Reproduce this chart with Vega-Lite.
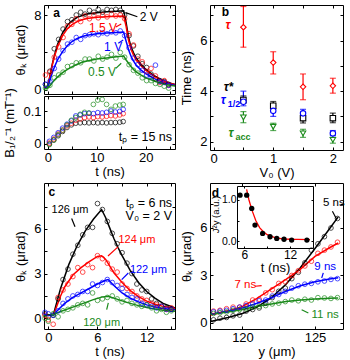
{
"$schema": "https://vega.github.io/schema/vega-lite/v6.json",
"width": 350, "height": 360, "autosize": {"type": "none"}, "padding": 0,
"config": {
 "view": {"stroke": null},
 "font": "Liberation Sans",
 "legend": {"disable": true},
 "axis": {"grid": false, "domainColor": "#000", "domainWidth": 1, "tickColor": "#000", "tickWidth": 1, "tickSize": -3, "labelPadding": 6, "labelFont": "Liberation Sans", "labelFontSize": 13, "labelColor": "#000", "titleFont": "Liberation Sans", "titleFontSize": 13, "titleFontWeight": "normal", "titleColor": "#000", "labelOverlap": false, "labelFlush": false, "titlePadding": 4},
 "text": {"font": "Liberation Sans"}
},
"datasets": {
 "aTopLines": [
  {"s":"2 V","x":-0.8,"y":0.2},{"s":"2 V","x":0,"y":0.3},{"s":"2 V","x":0.5,"y":1.8},{"s":"2 V","x":1,"y":3.0},{"s":"2 V","x":1.5,"y":4.0},{"s":"2 V","x":2,"y":4.9},{"s":"2 V","x":3,"y":6.1},{"s":"2 V","x":4,"y":6.9},{"s":"2 V","x":5,"y":7.4},{"s":"2 V","x":6,"y":7.75},{"s":"2 V","x":7,"y":7.95},{"s":"2 V","x":8,"y":8.1},{"s":"2 V","x":10,"y":8.25},{"s":"2 V","x":12,"y":8.35},{"s":"2 V","x":14,"y":8.4},{"s":"2 V","x":15.5,"y":8.45},{"s":"2 V","x":16,"y":7.2},{"s":"2 V","x":16.5,"y":5.6},{"s":"2 V","x":17,"y":4.6},{"s":"2 V","x":17.5,"y":4.0},{"s":"2 V","x":18,"y":3.45},{"s":"2 V","x":19,"y":2.75},{"s":"2 V","x":20,"y":2.2},{"s":"2 V","x":21,"y":1.8},{"s":"2 V","x":22,"y":1.45},{"s":"2 V","x":23,"y":1.15},{"s":"2 V","x":24,"y":0.92},{"s":"2 V","x":25,"y":0.73},{"s":"2 V","x":26,"y":0.58},
  {"s":"1.5 V","x":-0.8,"y":0.2},{"s":"1.5 V","x":0,"y":0.35},{"s":"1.5 V","x":0.5,"y":1.7},{"s":"1.5 V","x":1,"y":2.9},{"s":"1.5 V","x":1.5,"y":3.85},{"s":"1.5 V","x":2,"y":4.65},{"s":"1.5 V","x":3,"y":5.8},{"s":"1.5 V","x":4,"y":6.55},{"s":"1.5 V","x":5,"y":7.0},{"s":"1.5 V","x":6,"y":7.3},{"s":"1.5 V","x":7,"y":7.5},{"s":"1.5 V","x":8,"y":7.62},{"s":"1.5 V","x":10,"y":7.75},{"s":"1.5 V","x":12,"y":7.82},{"s":"1.5 V","x":14,"y":7.87},{"s":"1.5 V","x":15.5,"y":7.9},{"s":"1.5 V","x":16,"y":6.8},{"s":"1.5 V","x":16.5,"y":5.3},{"s":"1.5 V","x":17,"y":4.35},{"s":"1.5 V","x":17.5,"y":3.75},{"s":"1.5 V","x":18,"y":3.25},{"s":"1.5 V","x":19,"y":2.6},{"s":"1.5 V","x":20,"y":2.1},{"s":"1.5 V","x":21,"y":1.72},{"s":"1.5 V","x":22,"y":1.4},{"s":"1.5 V","x":23,"y":1.12},{"s":"1.5 V","x":24,"y":0.9},{"s":"1.5 V","x":25,"y":0.72},{"s":"1.5 V","x":26,"y":0.57},
  {"s":"1 V","x":-0.8,"y":0.15},{"s":"1 V","x":0,"y":0.3},{"s":"1 V","x":0.5,"y":1.2},{"s":"1 V","x":1,"y":2.0},{"s":"1 V","x":1.5,"y":2.65},{"s":"1 V","x":2,"y":3.25},{"s":"1 V","x":3,"y":4.1},{"s":"1 V","x":4,"y":4.75},{"s":"1 V","x":5,"y":5.2},{"s":"1 V","x":6,"y":5.5},{"s":"1 V","x":7,"y":5.7},{"s":"1 V","x":8,"y":5.85},{"s":"1 V","x":10,"y":6.0},{"s":"1 V","x":12,"y":6.08},{"s":"1 V","x":14,"y":6.13},{"s":"1 V","x":15.5,"y":6.18},{"s":"1 V","x":16,"y":5.2},{"s":"1 V","x":16.5,"y":4.3},{"s":"1 V","x":17,"y":3.6},{"s":"1 V","x":17.5,"y":3.1},{"s":"1 V","x":18,"y":2.7},{"s":"1 V","x":19,"y":2.15},{"s":"1 V","x":20,"y":1.75},{"s":"1 V","x":21,"y":1.42},{"s":"1 V","x":22,"y":1.15},{"s":"1 V","x":23,"y":0.92},{"s":"1 V","x":24,"y":0.75},{"s":"1 V","x":25,"y":0.6},{"s":"1 V","x":26,"y":0.48},
  {"s":"0.5 V","x":-0.8,"y":0.1},{"s":"0.5 V","x":0,"y":0.2},{"s":"0.5 V","x":0.5,"y":0.5},{"s":"0.5 V","x":1,"y":0.85},{"s":"0.5 V","x":1.5,"y":1.15},{"s":"0.5 V","x":2,"y":1.4},{"s":"0.5 V","x":3,"y":1.85},{"s":"0.5 V","x":4,"y":2.2},{"s":"0.5 V","x":5,"y":2.5},{"s":"0.5 V","x":6,"y":2.75},{"s":"0.5 V","x":7,"y":2.95},{"s":"0.5 V","x":8,"y":3.1},{"s":"0.5 V","x":10,"y":3.3},{"s":"0.5 V","x":12,"y":3.42},{"s":"0.5 V","x":14,"y":3.55},{"s":"0.5 V","x":15.5,"y":3.62},{"s":"0.5 V","x":16,"y":3.2},{"s":"0.5 V","x":16.5,"y":2.85},{"s":"0.5 V","x":17,"y":2.5},{"s":"0.5 V","x":17.5,"y":2.2},{"s":"0.5 V","x":18,"y":1.95},{"s":"0.5 V","x":19,"y":1.6},{"s":"0.5 V","x":20,"y":1.3},{"s":"0.5 V","x":21,"y":1.1},{"s":"0.5 V","x":22,"y":0.9},{"s":"0.5 V","x":23,"y":0.75},{"s":"0.5 V","x":24,"y":0.62},{"s":"0.5 V","x":25,"y":0.5},{"s":"0.5 V","x":26,"y":0.42}
 ],
 "aTopPts": [
  {"s":"2 V","x":-0.5,"y":0.6},{"s":"2 V","x":0.4,"y":2.0},{"s":"2 V","x":1.3,"y":4.4},{"s":"2 V","x":2.2,"y":5.4},{"s":"2 V","x":3.1,"y":6.5},{"s":"2 V","x":4.0,"y":7.3},{"s":"2 V","x":4.9,"y":7.5},{"s":"2 V","x":5.8,"y":8.0},{"s":"2 V","x":6.7,"y":8.3},{"s":"2 V","x":7.6,"y":8.1},{"s":"2 V","x":8.5,"y":8.5},{"s":"2 V","x":9.4,"y":8.3},{"s":"2 V","x":10.3,"y":8.6},{"s":"2 V","x":11.2,"y":8.3},{"s":"2 V","x":12.1,"y":8.6},{"s":"2 V","x":13.0,"y":8.5},{"s":"2 V","x":13.9,"y":8.6},{"s":"2 V","x":14.8,"y":8.5},{"s":"2 V","x":15.7,"y":8.0},{"s":"2 V","x":16.6,"y":5.8},{"s":"2 V","x":17.5,"y":4.7},{"s":"2 V","x":18.4,"y":3.6},{"s":"2 V","x":19.3,"y":2.8},{"s":"2 V","x":20.2,"y":2.4},{"s":"2 V","x":21.1,"y":1.7},{"s":"2 V","x":22.0,"y":1.2},{"s":"2 V","x":22.9,"y":1.0},{"s":"2 V","x":23.8,"y":0.9},{"s":"2 V","x":24.7,"y":0.6},
  {"s":"1.5 V","x":-0.5,"y":1.6},{"s":"1.5 V","x":0.4,"y":1.9},{"s":"1.5 V","x":1.3,"y":3.5},{"s":"1.5 V","x":2.2,"y":4.6},{"s":"1.5 V","x":3.1,"y":5.6},{"s":"1.5 V","x":4.0,"y":6.8},{"s":"1.5 V","x":4.9,"y":7.0},{"s":"1.5 V","x":5.8,"y":7.6},{"s":"1.5 V","x":6.7,"y":7.3},{"s":"1.5 V","x":7.6,"y":7.9},{"s":"1.5 V","x":8.5,"y":7.6},{"s":"1.5 V","x":9.4,"y":8.0},{"s":"1.5 V","x":10.3,"y":7.7},{"s":"1.5 V","x":11.2,"y":8.0},{"s":"1.5 V","x":12.1,"y":7.8},{"s":"1.5 V","x":13.0,"y":8.1},{"s":"1.5 V","x":13.9,"y":7.9},{"s":"1.5 V","x":14.8,"y":8.0},{"s":"1.5 V","x":15.7,"y":7.6},{"s":"1.5 V","x":16.6,"y":6.0},{"s":"1.5 V","x":17.5,"y":4.8},{"s":"1.5 V","x":18.4,"y":3.3},{"s":"1.5 V","x":19.3,"y":3.0},{"s":"1.5 V","x":20.2,"y":2.0},{"s":"1.5 V","x":21.1,"y":2.3},{"s":"1.5 V","x":22.0,"y":1.5},{"s":"1.5 V","x":22.9,"y":0.8},{"s":"1.5 V","x":23.8,"y":1.0},{"s":"1.5 V","x":24.7,"y":0.5},
  {"s":"1 V","x":-0.5,"y":0.6},{"s":"1 V","x":0.4,"y":0.9},{"s":"1 V","x":1.3,"y":2.3},{"s":"1 V","x":2.2,"y":3.3},{"s":"1 V","x":3.1,"y":4.2},{"s":"1 V","x":4.0,"y":4.9},{"s":"1 V","x":4.9,"y":5.1},{"s":"1 V","x":5.8,"y":5.6},{"s":"1 V","x":6.7,"y":5.4},{"s":"1 V","x":7.6,"y":5.8},{"s":"1 V","x":8.5,"y":5.9},{"s":"1 V","x":9.4,"y":6.0},{"s":"1 V","x":10.3,"y":5.9},{"s":"1 V","x":11.2,"y":6.1},{"s":"1 V","x":12.1,"y":6.0},{"s":"1 V","x":13.0,"y":6.2},{"s":"1 V","x":13.9,"y":6.1},{"s":"1 V","x":14.8,"y":6.3},{"s":"1 V","x":15.7,"y":5.8},{"s":"1 V","x":16.6,"y":4.5},{"s":"1 V","x":17.5,"y":3.4},{"s":"1 V","x":18.4,"y":2.7},{"s":"1 V","x":19.3,"y":2.1},{"s":"1 V","x":20.2,"y":1.6},{"s":"1 V","x":21.1,"y":1.4},{"s":"1 V","x":22.0,"y":2.65},{"s":"1 V","x":22.9,"y":0.9},{"s":"1 V","x":23.8,"y":0.8},{"s":"1 V","x":24.7,"y":0.5},
  {"s":"0.5 V","x":-0.5,"y":0.2},{"s":"0.5 V","x":0.4,"y":0.5},{"s":"0.5 V","x":1.3,"y":1.3},{"s":"0.5 V","x":2.2,"y":1.6},{"s":"0.5 V","x":3.1,"y":1.9},{"s":"0.5 V","x":4.0,"y":2.5},{"s":"0.5 V","x":4.9,"y":2.6},{"s":"0.5 V","x":5.8,"y":2.9},{"s":"0.5 V","x":6.7,"y":2.9},{"s":"0.5 V","x":7.6,"y":3.3},{"s":"0.5 V","x":8.5,"y":3.3},{"s":"0.5 V","x":9.4,"y":3.1},{"s":"0.5 V","x":10.3,"y":3.6},{"s":"0.5 V","x":11.2,"y":3.3},{"s":"0.5 V","x":12.1,"y":3.5},{"s":"0.5 V","x":13.0,"y":3.8},{"s":"0.5 V","x":13.9,"y":3.4},{"s":"0.5 V","x":14.8,"y":4.0},{"s":"0.5 V","x":15.7,"y":3.5},{"s":"0.5 V","x":16.6,"y":2.7},{"s":"0.5 V","x":17.5,"y":2.1},{"s":"0.5 V","x":18.4,"y":1.8},{"s":"0.5 V","x":19.3,"y":1.3},{"s":"0.5 V","x":20.2,"y":1.0},{"s":"0.5 V","x":21.1,"y":1.0},{"s":"0.5 V","x":22.0,"y":0.7},{"s":"0.5 V","x":22.9,"y":0.6},{"s":"0.5 V","x":23.8,"y":0.4},{"s":"0.5 V","x":24.7,"y":0.2}
 ],
 "aLab": [
  {"s":"2 V","x":18.8,"y":7.8,"text":"2 V"},{"s":"1.5 V","x":8.4,"y":6.6,"text":"1.5 V"},{"s":"1 V","x":11.5,"y":4.62,"text":"1 V"},{"s":"0.5 V","x":8.2,"y":1.95,"text":"0.5 V"}
 ],
 "aPtr": [
  {"s":"2 V","x":15.9,"y":8.25,"x2":18.3,"y2":7.82},{"s":"1.5 V","x":13.9,"y":6.72,"x2":15.0,"y2":7.04},{"s":"1 V","x":14.4,"y":4.98,"x2":15.4,"y2":5.33},{"s":"0.5 V","x":13.9,"y":2.31,"x2":15.0,"y2":2.85}
 ],
 "aBot": [
  {"s":"2 V","x":0.3,"y":0.0},{"s":"2 V","x":1.2,"y":0.012},{"s":"2 V","x":2.1,"y":0.025},{"s":"2 V","x":3.0,"y":0.038},{"s":"2 V","x":3.9,"y":0.05},{"s":"2 V","x":4.8,"y":0.058},{"s":"2 V","x":5.7,"y":0.063},{"s":"2 V","x":6.6,"y":0.064},{"s":"2 V","x":7.5,"y":0.065},{"s":"2 V","x":8.4,"y":0.064},{"s":"2 V","x":9.3,"y":0.065},{"s":"2 V","x":10.2,"y":0.064},{"s":"2 V","x":11.1,"y":0.065},{"s":"2 V","x":12.0,"y":0.064},{"s":"2 V","x":12.9,"y":0.065},{"s":"2 V","x":13.8,"y":0.065},{"s":"2 V","x":14.7,"y":0.066},{"s":"2 V","x":15.4,"y":0.068},
  {"s":"1.5 V","x":0.3,"y":0.003},{"s":"1.5 V","x":1.2,"y":0.015},{"s":"1.5 V","x":2.1,"y":0.03},{"s":"1.5 V","x":3.0,"y":0.042},{"s":"1.5 V","x":3.9,"y":0.055},{"s":"1.5 V","x":4.8,"y":0.063},{"s":"1.5 V","x":5.7,"y":0.072},{"s":"1.5 V","x":6.6,"y":0.076},{"s":"1.5 V","x":7.5,"y":0.08},{"s":"1.5 V","x":8.4,"y":0.082},{"s":"1.5 V","x":9.3,"y":0.08},{"s":"1.5 V","x":10.2,"y":0.083},{"s":"1.5 V","x":11.1,"y":0.082},{"s":"1.5 V","x":12.0,"y":0.084},{"s":"1.5 V","x":12.9,"y":0.086},{"s":"1.5 V","x":13.8,"y":0.085},{"s":"1.5 V","x":14.7,"y":0.088},{"s":"1.5 V","x":15.4,"y":0.092},
  {"s":"1 V","x":0.3,"y":0.008},{"s":"1 V","x":1.2,"y":0.02},{"s":"1 V","x":2.1,"y":0.034},{"s":"1 V","x":3.0,"y":0.048},{"s":"1 V","x":3.9,"y":0.06},{"s":"1 V","x":4.8,"y":0.07},{"s":"1 V","x":5.7,"y":0.085},{"s":"1 V","x":6.6,"y":0.088},{"s":"1 V","x":7.5,"y":0.092},{"s":"1 V","x":8.4,"y":0.093},{"s":"1 V","x":9.3,"y":0.092},{"s":"1 V","x":10.2,"y":0.095},{"s":"1 V","x":11.1,"y":0.094},{"s":"1 V","x":12.0,"y":0.096},{"s":"1 V","x":12.9,"y":0.1},{"s":"1 V","x":13.8,"y":0.097},{"s":"1 V","x":14.7,"y":0.099},{"s":"1 V","x":15.4,"y":0.105},
  {"s":"0.5 V","x":0.3,"y":-0.002},{"s":"0.5 V","x":1.2,"y":0.012},{"s":"0.5 V","x":2.1,"y":0.028},{"s":"0.5 V","x":3.0,"y":0.042},{"s":"0.5 V","x":3.9,"y":0.058},{"s":"0.5 V","x":4.8,"y":0.072},{"s":"0.5 V","x":5.7,"y":0.08},{"s":"0.5 V","x":6.6,"y":0.09},{"s":"0.5 V","x":7.5,"y":0.096},{"s":"0.5 V","x":8.4,"y":0.094},{"s":"0.5 V","x":9.3,"y":0.12},{"s":"0.5 V","x":10.2,"y":0.133},{"s":"0.5 V","x":11.1,"y":0.135},{"s":"0.5 V","x":12.0,"y":0.12},{"s":"0.5 V","x":12.9,"y":0.105},{"s":"0.5 V","x":13.8,"y":0.115},{"s":"0.5 V","x":14.7,"y":0.118},{"s":"0.5 V","x":15.4,"y":0.12}
 ],
 "bPts": [
  {"s":"τ","x":0.5,"y":6.53,"lo":5.74,"hi":7.35},{"s":"τ","x":1,"y":5.13,"lo":4.68,"hi":5.56},{"s":"τ","x":1.5,"y":4.17,"lo":3.66,"hi":4.68},{"s":"τ","x":2,"y":4.21,"lo":3.92,"hi":4.51},
  {"s":"τ*","x":0.5,"y":3.65,"lo":3.53,"hi":3.81},{"s":"τ*","x":1,"y":3.42,"lo":3.30,"hi":3.59},{"s":"τ*","x":1.5,"y":2.93,"lo":2.74,"hi":3.13},{"s":"τ*","x":2,"y":2.93,"lo":2.75,"hi":3.13},
  {"s":"τ1/2","x":0.5,"y":3.58,"lo":3.42,"hi":4.0},{"s":"τ1/2","x":1,"y":3.22,"lo":3.0,"hi":3.42},{"s":"τ1/2","x":1.5,"y":3.12,"lo":2.93,"hi":3.28},{"s":"τ1/2","x":2,"y":2.33,"lo":2.23,"hi":2.44},
  {"s":"τacc","x":0.5,"y":2.96,"lo":2.75,"hi":3.19},{"s":"τacc","x":1,"y":2.59,"lo":2.44,"hi":2.73},{"s":"τacc","x":1.5,"y":2.33,"lo":2.17,"hi":2.49},{"s":"τacc","x":2,"y":2.07,"lo":1.94,"hi":2.26}
 ],
 "bLab": [
  {"s":"τ","x":0.2,"y":6.62,"main":"τ","sub":""},{"s":"τ*","x":0.17,"y":4.16,"main":"τ*","sub":""},{"s":"τ1/2","x":0.12,"y":3.64,"main":"τ","sub":"1/2"},{"s":"τacc","x":0.25,"y":2.33,"main":"τ","sub":"acc"}
 ],
 "cLines": [
  {"s":"126 μm","x":-0.52,"y":0.2},{"s":"126 μm","x":0.6,"y":0.2},{"s":"126 μm","x":0.8,"y":0.6},{"s":"126 μm","x":1.5,"y":2.0},{"s":"126 μm","x":2.5,"y":3.6},{"s":"126 μm","x":3.5,"y":4.85},{"s":"126 μm","x":4.5,"y":5.85},{"s":"126 μm","x":5.5,"y":6.65},{"s":"126 μm","x":6.5,"y":7.3},{"s":"126 μm","x":7.0,"y":6.75},{"s":"126 μm","x":7.5,"y":6.05},{"s":"126 μm","x":8.0,"y":5.35},{"s":"126 μm","x":8.5,"y":4.75},{"s":"126 μm","x":9.0,"y":4.2},{"s":"126 μm","x":10,"y":3.2},{"s":"126 μm","x":11,"y":2.4},{"s":"126 μm","x":12,"y":1.8},{"s":"126 μm","x":13,"y":1.35},{"s":"126 μm","x":14,"y":1.0},{"s":"126 μm","x":15.45,"y":0.7},
  {"s":"124 μm","x":-0.52,"y":0.2},{"s":"124 μm","x":0.6,"y":0.2},{"s":"124 μm","x":0.9,"y":0.6},{"s":"124 μm","x":1.5,"y":1.5},{"s":"124 μm","x":2.0,"y":2.1},{"s":"124 μm","x":3.0,"y":2.9},{"s":"124 μm","x":4.0,"y":3.4},{"s":"124 μm","x":5.0,"y":3.8},{"s":"124 μm","x":6.0,"y":4.15},{"s":"124 μm","x":6.5,"y":4.2},{"s":"124 μm","x":7.0,"y":3.95},{"s":"124 μm","x":7.5,"y":3.5},{"s":"124 μm","x":8.0,"y":3.05},{"s":"124 μm","x":9,"y":2.4},{"s":"124 μm","x":10,"y":1.85},{"s":"124 μm","x":11,"y":1.45},{"s":"124 μm","x":12,"y":1.15},{"s":"124 μm","x":13,"y":0.95},{"s":"124 μm","x":14,"y":0.8},{"s":"124 μm","x":15.45,"y":0.65},
  {"s":"122 μm","x":-0.52,"y":0.2},{"s":"122 μm","x":0.6,"y":0.2},{"s":"122 μm","x":1.0,"y":0.45},{"s":"122 μm","x":2.0,"y":1.0},{"s":"122 μm","x":3.0,"y":1.4},{"s":"122 μm","x":4.0,"y":1.7},{"s":"122 μm","x":5.0,"y":2.0},{"s":"122 μm","x":6.0,"y":2.3},{"s":"122 μm","x":7.0,"y":2.55},{"s":"122 μm","x":7.3,"y":2.6},{"s":"122 μm","x":8.0,"y":2.2},{"s":"122 μm","x":9,"y":1.7},{"s":"122 μm","x":10,"y":1.35},{"s":"122 μm","x":11,"y":1.1},{"s":"122 μm","x":12,"y":0.9},{"s":"122 μm","x":13,"y":0.75},{"s":"122 μm","x":14,"y":0.65},{"s":"122 μm","x":15.45,"y":0.58},
  {"s":"120 μm","x":-0.52,"y":0.2},{"s":"120 μm","x":0.6,"y":0.25},{"s":"120 μm","x":1.5,"y":0.45},{"s":"120 μm","x":2.5,"y":0.65},{"s":"120 μm","x":3.5,"y":0.85},{"s":"120 μm","x":4.5,"y":1.05},{"s":"120 μm","x":5.5,"y":1.25},{"s":"120 μm","x":6.5,"y":1.42},{"s":"120 μm","x":7.3,"y":1.48},{"s":"120 μm","x":8.0,"y":1.35},{"s":"120 μm","x":9,"y":1.17},{"s":"120 μm","x":10,"y":1.0},{"s":"120 μm","x":11,"y":0.85},{"s":"120 μm","x":12,"y":0.73},{"s":"120 μm","x":13,"y":0.62},{"s":"120 μm","x":14,"y":0.54},{"s":"120 μm","x":15.45,"y":0.47}
 ],
 "cPts": [
  {"s":"126 μm","x":-0.4,"y":0.3},{"s":"126 μm","x":0,"y":0.1},{"s":"126 μm","x":0.6,"y":0.2},{"s":"126 μm","x":1.2,"y":1.3},{"s":"126 μm","x":1.8,"y":2.6},{"s":"126 μm","x":2.4,"y":3.3},{"s":"126 μm","x":3.0,"y":4.3},{"s":"126 μm","x":3.6,"y":4.9},{"s":"126 μm","x":4.2,"y":5.6},{"s":"126 μm","x":4.8,"y":6.1},{"s":"126 μm","x":5.4,"y":6.1},{"s":"126 μm","x":6.0,"y":7.7},{"s":"126 μm","x":6.6,"y":7.3},{"s":"126 μm","x":7.2,"y":6.5},{"s":"126 μm","x":7.8,"y":5.7},{"s":"126 μm","x":8.4,"y":5.0},{"s":"126 μm","x":9.0,"y":4.4},{"s":"126 μm","x":9.6,"y":3.7},{"s":"126 μm","x":10.2,"y":3.0},{"s":"126 μm","x":10.8,"y":2.3},{"s":"126 μm","x":11.4,"y":1.9},{"s":"126 μm","x":12.0,"y":1.8},{"s":"126 μm","x":12.6,"y":1.3},{"s":"126 μm","x":13.2,"y":1.0},{"s":"126 μm","x":13.8,"y":0.8},{"s":"126 μm","x":14.4,"y":0.7},{"s":"126 μm","x":15.0,"y":0.6},
  {"s":"124 μm","x":-0.4,"y":0.2},{"s":"124 μm","x":0,"y":-0.1},{"s":"124 μm","x":0.6,"y":-0.4},{"s":"124 μm","x":1.2,"y":1.4},{"s":"124 μm","x":1.8,"y":1.9},{"s":"124 μm","x":2.4,"y":2.3},{"s":"124 μm","x":3.0,"y":2.8},{"s":"124 μm","x":3.6,"y":3.4},{"s":"124 μm","x":4.2,"y":3.1},{"s":"124 μm","x":4.8,"y":3.6},{"s":"124 μm","x":5.4,"y":3.4},{"s":"124 μm","x":6.0,"y":4.2},{"s":"124 μm","x":6.6,"y":4.0},{"s":"124 μm","x":7.2,"y":3.7},{"s":"124 μm","x":7.8,"y":3.3},{"s":"124 μm","x":8.4,"y":3.1},{"s":"124 μm","x":9.0,"y":2.3},{"s":"124 μm","x":9.6,"y":2.0},{"s":"124 μm","x":10.2,"y":1.8},{"s":"124 μm","x":10.8,"y":1.5},{"s":"124 μm","x":11.4,"y":1.3},{"s":"124 μm","x":12.0,"y":1.2},{"s":"124 μm","x":12.6,"y":1.0},{"s":"124 μm","x":13.2,"y":0.9},{"s":"124 μm","x":13.8,"y":0.8},{"s":"124 μm","x":14.4,"y":0.6},{"s":"124 μm","x":15.0,"y":0.7},
  {"s":"122 μm","x":-0.4,"y":0.4},{"s":"122 μm","x":0,"y":0.3},{"s":"122 μm","x":0.6,"y":0.2},{"s":"122 μm","x":1.2,"y":0.5},{"s":"122 μm","x":1.8,"y":1.0},{"s":"122 μm","x":2.4,"y":1.3},{"s":"122 μm","x":3.0,"y":1.5},{"s":"122 μm","x":3.6,"y":1.6},{"s":"122 μm","x":4.2,"y":1.8},{"s":"122 μm","x":4.8,"y":1.8},{"s":"122 μm","x":5.4,"y":2.3},{"s":"122 μm","x":6.0,"y":2.2},{"s":"122 μm","x":6.6,"y":2.4},{"s":"122 μm","x":7.2,"y":2.6},{"s":"122 μm","x":7.8,"y":2.4},{"s":"122 μm","x":8.4,"y":2.2},{"s":"122 μm","x":9.0,"y":2.0},{"s":"122 μm","x":9.6,"y":1.6},{"s":"122 μm","x":10.2,"y":1.4},{"s":"122 μm","x":10.8,"y":1.3},{"s":"122 μm","x":11.4,"y":1.0},{"s":"122 μm","x":12.0,"y":0.9},{"s":"122 μm","x":12.6,"y":0.8},{"s":"122 μm","x":13.2,"y":0.7},{"s":"122 μm","x":13.8,"y":0.8},{"s":"122 μm","x":14.4,"y":0.6},{"s":"122 μm","x":15.0,"y":0.6},
  {"s":"120 μm","x":-0.4,"y":0.0},{"s":"120 μm","x":0,"y":-0.2},{"s":"120 μm","x":0.6,"y":0.3},{"s":"120 μm","x":1.2,"y":0.1},{"s":"120 μm","x":1.8,"y":0.5},{"s":"120 μm","x":2.4,"y":0.6},{"s":"120 μm","x":3.0,"y":0.7},{"s":"120 μm","x":3.6,"y":0.9},{"s":"120 μm","x":4.2,"y":1.0},{"s":"120 μm","x":4.8,"y":0.9},{"s":"120 μm","x":5.4,"y":1.7},{"s":"120 μm","x":6.0,"y":1.2},{"s":"120 μm","x":6.6,"y":1.3},{"s":"120 μm","x":7.2,"y":1.4},{"s":"120 μm","x":7.8,"y":1.5},{"s":"120 μm","x":8.4,"y":1.3},{"s":"120 μm","x":9.0,"y":1.1},{"s":"120 μm","x":9.6,"y":1.2},{"s":"120 μm","x":10.2,"y":1.0},{"s":"120 μm","x":10.8,"y":0.9},{"s":"120 μm","x":11.4,"y":0.8},{"s":"120 μm","x":12.0,"y":0.9},{"s":"120 μm","x":12.6,"y":0.7},{"s":"120 μm","x":13.2,"y":0.5},{"s":"120 μm","x":13.8,"y":0.6},{"s":"120 μm","x":14.4,"y":0.4},{"s":"120 μm","x":15.0,"y":0.5}
 ],
 "cLab": [
  {"s":"126 μm","x":2.65,"y":7.27,"text":"126 μm"},{"s":"124 μm","x":10.8,"y":5.28,"text":"124 μm"},{"s":"122 μm","x":12.2,"y":3.26,"text":"122 μm"},{"s":"120 μm","x":6.5,"y":-0.32,"text":"120 μm"}
 ],
 "cPtr": [
  {"s":"126 μm","x":2.85,"y":6.7,"x2":3.26,"y2":6.15},{"s":"124 μm","x":8.5,"y":4.79,"x2":7.28,"y2":4.18},{"s":"122 μm","x":9.76,"y":3.04,"x2":8.95,"y2":2.59},{"s":"120 μm","x":7.12,"y":0.58,"x2":7.32,"y2":1.03}
 ],
 "dLines": [
  {"s":"5 ns","x":117.8,"y":0.1},{"s":"5 ns","x":119,"y":0.35},{"s":"5 ns","x":120,"y":0.6},{"s":"5 ns","x":121,"y":1.0},{"s":"5 ns","x":122,"y":1.6},{"s":"5 ns","x":123,"y":2.45},{"s":"5 ns","x":124,"y":3.5},{"s":"5 ns","x":125,"y":4.7},{"s":"5 ns","x":126,"y":5.95},{"s":"5 ns","x":126.6,"y":6.7},
  {"s":"7 ns","x":117.8,"y":0.5},{"s":"7 ns","x":119,"y":0.75},{"s":"7 ns","x":120,"y":1.05},{"s":"7 ns","x":121,"y":1.55},{"s":"7 ns","x":122,"y":2.15},{"s":"7 ns","x":123,"y":2.75},{"s":"7 ns","x":124,"y":3.4},{"s":"7 ns","x":125,"y":4.2},{"s":"7 ns","x":126,"y":4.75},{"s":"7 ns","x":126.6,"y":5.05},
  {"s":"9 ns","x":117.8,"y":0.55},{"s":"9 ns","x":119,"y":0.75},{"s":"9 ns","x":120,"y":0.95},{"s":"9 ns","x":121,"y":1.25},{"s":"9 ns","x":122,"y":1.6},{"s":"9 ns","x":123,"y":2.0},{"s":"9 ns","x":124,"y":2.35},{"s":"9 ns","x":125,"y":2.6},{"s":"9 ns","x":126,"y":2.78},{"s":"9 ns","x":126.6,"y":2.85},
  {"s":"11 ns","x":117.8,"y":0.55},{"s":"11 ns","x":119,"y":0.7},{"s":"11 ns","x":120,"y":0.85},{"s":"11 ns","x":121,"y":1.05},{"s":"11 ns","x":122,"y":1.2},{"s":"11 ns","x":123,"y":1.35},{"s":"11 ns","x":124,"y":1.45},{"s":"11 ns","x":125,"y":1.52},{"s":"11 ns","x":126,"y":1.56},{"s":"11 ns","x":126.6,"y":1.58}
 ],
 "dPts": [
  {"s":"5 ns","x":118.0,"y":0.2},{"s":"5 ns","x":118.45,"y":0.3},{"s":"5 ns","x":118.9,"y":0.35},{"s":"5 ns","x":119.35,"y":0.45},{"s":"5 ns","x":119.8,"y":0.5},{"s":"5 ns","x":120.25,"y":0.75},{"s":"5 ns","x":120.7,"y":0.85},{"s":"5 ns","x":121.15,"y":0.95},{"s":"5 ns","x":121.6,"y":1.25},{"s":"5 ns","x":122.05,"y":1.6},{"s":"5 ns","x":122.5,"y":2.0},{"s":"5 ns","x":122.95,"y":2.2},{"s":"5 ns","x":123.4,"y":2.8},{"s":"5 ns","x":123.85,"y":3.2},{"s":"5 ns","x":124.3,"y":3.8},{"s":"5 ns","x":124.75,"y":4.6},{"s":"5 ns","x":125.2,"y":5.0},{"s":"5 ns","x":125.65,"y":5.45},{"s":"5 ns","x":126.1,"y":6.0},{"s":"5 ns","x":126.55,"y":6.6},
  {"s":"7 ns","x":118.0,"y":0.75},{"s":"7 ns","x":118.45,"y":0.8},{"s":"7 ns","x":118.9,"y":0.9},{"s":"7 ns","x":119.35,"y":1.0},{"s":"7 ns","x":119.8,"y":1.0},{"s":"7 ns","x":120.25,"y":1.2},{"s":"7 ns","x":120.7,"y":1.45},{"s":"7 ns","x":121.15,"y":1.5},{"s":"7 ns","x":121.6,"y":1.9},{"s":"7 ns","x":122.05,"y":2.1},{"s":"7 ns","x":122.5,"y":2.5},{"s":"7 ns","x":122.95,"y":2.6},{"s":"7 ns","x":123.4,"y":3.0},{"s":"7 ns","x":123.85,"y":3.3},{"s":"7 ns","x":124.3,"y":3.6},{"s":"7 ns","x":124.75,"y":3.9},{"s":"7 ns","x":125.2,"y":4.4},{"s":"7 ns","x":125.65,"y":4.6},{"s":"7 ns","x":126.1,"y":4.8},{"s":"7 ns","x":126.55,"y":5.1},
  {"s":"9 ns","x":118.0,"y":0.7},{"s":"9 ns","x":118.45,"y":0.75},{"s":"9 ns","x":118.9,"y":0.8},{"s":"9 ns","x":119.35,"y":0.9},{"s":"9 ns","x":119.8,"y":1.0},{"s":"9 ns","x":120.25,"y":1.1},{"s":"9 ns","x":120.7,"y":1.2},{"s":"9 ns","x":121.15,"y":1.4},{"s":"9 ns","x":121.6,"y":1.45},{"s":"9 ns","x":122.05,"y":1.7},{"s":"9 ns","x":122.5,"y":1.8},{"s":"9 ns","x":122.95,"y":2.0},{"s":"9 ns","x":123.4,"y":2.2},{"s":"9 ns","x":123.85,"y":2.35},{"s":"9 ns","x":124.3,"y":2.45},{"s":"9 ns","x":124.75,"y":2.5},{"s":"9 ns","x":125.2,"y":2.6},{"s":"9 ns","x":125.65,"y":2.65},{"s":"9 ns","x":126.1,"y":2.75},{"s":"9 ns","x":126.55,"y":2.8},
  {"s":"11 ns","x":118.0,"y":0.6},{"s":"11 ns","x":118.45,"y":0.65},{"s":"11 ns","x":118.9,"y":0.7},{"s":"11 ns","x":119.35,"y":0.8},{"s":"11 ns","x":119.8,"y":0.85},{"s":"11 ns","x":120.25,"y":0.9},{"s":"11 ns","x":120.7,"y":1.0},{"s":"11 ns","x":121.15,"y":1.05},{"s":"11 ns","x":121.6,"y":1.1},{"s":"11 ns","x":122.05,"y":1.2},{"s":"11 ns","x":122.5,"y":1.25},{"s":"11 ns","x":122.95,"y":1.35},{"s":"11 ns","x":123.4,"y":1.45},{"s":"11 ns","x":123.85,"y":1.4},{"s":"11 ns","x":124.3,"y":1.5},{"s":"11 ns","x":124.75,"y":1.45},{"s":"11 ns","x":125.2,"y":1.6},{"s":"11 ns","x":125.65,"y":1.58},{"s":"11 ns","x":126.1,"y":1.55},{"s":"11 ns","x":126.55,"y":1.6}
 ],
 "dLab": [
  {"s":"5 ns","x":126.3,"y":7.58,"text":"5 ns"},{"s":"7 ns","x":120.2,"y":2.42,"text":"7 ns"},{"s":"9 ns","x":125.7,"y":3.52,"text":"9 ns"},{"s":"11 ns","x":125.7,"y":0.52,"text":"11 ns"}
 ],
 "dPtr": [
  {"s":"5 ns","x":126.2,"y":7.06,"x2":126.5,"y2":6.53},{"s":"7 ns","x":120.86,"y":2.32,"x2":121.32,"y2":2.36},{"s":"9 ns","x":125.57,"y":3.16,"x2":125.46,"y2":2.84},{"s":"11 ns","x":124.08,"y":0.84,"x2":124.54,"y2":0.63}
 ],
 "insetPts": [
  {"x":5.44,"y":1.11},{"x":6.31,"y":1.11},{"x":6.97,"y":0.79},{"x":7.4,"y":0.39},{"x":8.4,"y":0.19},{"x":9.37,"y":0.11},{"x":10.25,"y":0.07},{"x":11.2,"y":0.05},{"x":12.2,"y":0.03},{"x":14.2,"y":0.03}
 ],
 "insetLine": [
  {"x":6.3,"y":1.25},{"x":6.6,"y":1.0},{"x":7.0,"y":0.75},{"x":7.5,"y":0.5},{"x":8.0,"y":0.33},{"x":8.5,"y":0.23},{"x":9,"y":0.16},{"x":10,"y":0.09},{"x":11,"y":0.06},{"x":12,"y":0.05},{"x":13,"y":0.045},{"x":14.6,"y":0.04}
 ]
},
"layer": [
 {
  "resolve": {"axis": {"x": "independent", "y": "independent"}},
  "layer": [
   {"data": {"name": "aTopLines"}, "mark": {"type": "line", "strokeWidth": 1.5},
    "encoding": {
     "x": {"field": "x", "type": "quantitative", "scale": {"domain": [-0.8, 26], "range": [44, 175], "nice": false, "zero": false}, "axis": {"orient": "bottom", "offset": -266, "values": [0,5,10,15,20,25], "labels": false, "title": null}},
     "y": {"field": "y", "type": "quantitative", "scale": {"domain": [-0.43, 9.07], "range": [94, 5], "nice": false, "zero": false}, "axis": {"orient": "left", "offset": -44, "values": [0,4,8], "labelExpr": "datum.value==4?'':datum.label", "title": "θₖ (μrad)", "titlePadding": 6}},
     "color": {"field": "s", "type": "nominal", "scale": {"domain": ["2 V","1.5 V","1 V","0.5 V","126 μm","124 μm","122 μm","120 μm","5 ns","7 ns","9 ns","11 ns","τ","τ*","τ1/2","τacc"], "range": ["#000000","#ff0000","#0000ff","#1a8a1a","#000000","#ff0000","#0000ff","#1a8a1a","#000000","#ff0000","#0000ff","#1a8a1a","#ff0000","#000000","#0000ff","#1a8a1a"]}}
    }},
   {"data": {"name": "aTopPts"}, "mark": {"type": "point", "shape": "circle", "filled": false, "size": 22, "strokeWidth": 1},
    "encoding": {
     "x": {"field": "x", "type": "quantitative", "axis": {"orient": "top", "offset": -5, "values": [0,5,10,15,20,25], "labels": false, "title": null}},
     "y": {"field": "y", "type": "quantitative", "axis": {"orient": "right", "offset": -175, "values": [0,4,8], "labels": false, "title": null}},
     "color": {"field": "s", "type": "nominal"}
    }},
   {"data": {"name": "aPtr"}, "mark": {"type": "rule", "strokeWidth": 1.2},
    "encoding": {"x": {"field": "x", "type": "quantitative", "axis": null}, "y": {"field": "y", "type": "quantitative", "axis": null}, "x2": {"field": "x2"}, "y2": {"field": "y2"}, "color": {"field": "s", "type": "nominal"}}},
   {"data": {"name": "aLab"}, "mark": {"type": "text", "align": "left", "baseline": "middle", "fontSize": 12},
    "encoding": {"x": {"field": "x", "type": "quantitative", "axis": null}, "y": {"field": "y", "type": "quantitative", "axis": null}, "text": {"field": "text"}, "color": {"field": "s", "type": "nominal"}}},
   {"data": {"values": [{"x": 1.8, "y": 8.2, "text": "a"}]}, "mark": {"type": "text", "fontWeight": "bold", "fontSize": 12, "baseline": "middle", "align": "center", "color": "#000"},
    "encoding": {"x": {"field": "x", "type": "quantitative", "axis": null}, "y": {"field": "y", "type": "quantitative", "axis": null}, "text": {"field": "text"}}}
  ]
 },
 {
  "resolve": {"axis": {"x": "independent", "y": "independent"}},
  "layer": [
   {"data": {"name": "aBot"}, "mark": {"type": "point", "shape": "circle", "filled": false, "size": 22, "strokeWidth": 1},
    "encoding": {
     "x": {"field": "x", "type": "quantitative", "scale": {"domain": [-0.8, 26], "range": [44, 175], "nice": false, "zero": false}, "axis": {"orient": "bottom", "offset": -211, "values": [0,5,10,15,20,25], "labelExpr": "datum.value%10==0?datum.label:''", "title": "t (ns)", "labelPadding": 5, "titlePadding": 1}},
     "y": {"field": "y", "type": "quantitative", "scale": {"domain": [-0.0152, 0.1455], "range": [149, 96], "nice": false, "zero": false}, "axis": {"orient": "left", "offset": -44, "values": [0,0.05,0.1], "labelExpr": "datum.value==0?'0':(datum.value==0.1?'0.1':'')", "title": "B₁/₂⁻¹ (mT⁻¹)", "titlePadding": 6}},
     "color": {"field": "s", "type": "nominal"}
    }},
   {"data": {"name": "aBot"}, "mark": {"type": "point", "opacity": 0},
    "encoding": {
     "x": {"field": "x", "type": "quantitative", "axis": {"orient": "top", "offset": -96, "values": [0,5,10,15,20,25], "labels": false, "title": null}},
     "y": {"field": "y", "type": "quantitative", "axis": {"orient": "right", "offset": -175, "values": [0,0.05,0.1], "labels": false, "title": null}}
    }},
   {"data": {"values": [{"x": 25.4, "y": 0.022, "text": "tₚ = 15 ns"}]}, "mark": {"type": "text", "fontSize": 12.5, "align": "right", "baseline": "middle", "color": "#000"},
    "encoding": {"x": {"field": "x", "type": "quantitative", "axis": null}, "y": {"field": "y", "type": "quantitative", "axis": null}, "text": {"field": "text"}}}
  ]
 },
 {
  "resolve": {"axis": {"x": "independent", "y": "independent"}},
  "layer": [
   {"data": {"name": "bPts"}, "mark": {"type": "rule", "strokeWidth": 1.2},
    "encoding": {
     "x": {"field": "x", "type": "quantitative", "scale": {"domain": [-0.06, 2.17], "range": [210, 343], "nice": false, "zero": false}, "axis": {"orient": "bottom", "offset": -210, "values": [0,0.5,1,1.5,2], "labelExpr": "datum.value%1==0?format(datum.value,'d'):''", "title": "V₀ (V)", "labelPadding": 5, "titlePadding": 1}},
     "y": {"field": "lo", "type": "quantitative", "scale": {"domain": [1.67, 7.41], "range": [150, 5], "nice": false, "zero": false}, "axis": {"orient": "left", "offset": -210, "values": [2,3,4,5,6,7], "labelExpr": "datum.value%2==0?datum.label:''", "title": "Time (ns)", "titlePadding": 6}},
     "y2": {"field": "hi"},
     "color": {"field": "s", "type": "nominal"}
    }},
   {"data": {"name": "bPts"}, "mark": {"type": "tick", "orient": "horizontal", "size": 6, "thickness": 1.2},
    "encoding": {
     "x": {"field": "x", "type": "quantitative", "axis": {"orient": "top", "offset": -5, "values": [0,0.5,1,1.5,2], "labels": false, "title": null}},
     "y": {"field": "lo", "type": "quantitative", "axis": {"orient": "right", "offset": -7, "values": [2,3,4,5,6,7], "labels": false, "title": null}},
     "color": {"field": "s", "type": "nominal"}
    }},
   {"data": {"name": "bPts"}, "mark": {"type": "tick", "orient": "horizontal", "size": 6, "thickness": 1.2},
    "encoding": {
     "x": {"field": "x", "type": "quantitative", "axis": null},
     "y": {"field": "hi", "type": "quantitative", "axis": null},
     "color": {"field": "s", "type": "nominal"}
    }},
   {"data": {"name": "bPts"}, "mark": {"type": "point", "filled": false, "fill": "white", "fillOpacity": 1, "size": 30, "strokeWidth": 1.1},
    "encoding": {
     "x": {"field": "x", "type": "quantitative", "axis": null},
     "y": {"field": "y", "type": "quantitative", "axis": null},
     "shape": {"field": "s", "type": "nominal", "scale": {"domain": ["τ","τ*","τ1/2","τacc"], "range": ["diamond","square","circle","triangle-down"]}},
     "color": {"field": "s", "type": "nominal"}
    }},
   {"data": {"name": "bLab"}, "mark": {"type": "text", "align": "left", "baseline": "middle", "fontSize": 12, "fontWeight": "bold", "fontStyle": "italic"},
    "encoding": {"x": {"field": "x", "type": "quantitative", "axis": null}, "y": {"field": "y", "type": "quantitative", "axis": null}, "text": {"field": "main"}, "color": {"field": "s", "type": "nominal"}}},
   {"data": {"name": "bLab"}, "mark": {"type": "text", "align": "left", "baseline": "middle", "fontSize": 9, "fontWeight": "bold", "dx": 7, "dy": 4},
    "encoding": {"x": {"field": "x", "type": "quantitative", "axis": null}, "y": {"field": "y", "type": "quantitative", "axis": null}, "text": {"field": "sub"}, "color": {"field": "s", "type": "nominal"}}},
   {"data": {"values": [{"x": 0.2, "y": 7.12, "text": "b"}]}, "mark": {"type": "text", "fontWeight": "bold", "fontSize": 12, "baseline": "middle", "align": "center", "color": "#000"},
    "encoding": {"x": {"field": "x", "type": "quantitative", "axis": null}, "y": {"field": "y", "type": "quantitative", "axis": null}, "text": {"field": "text"}}}
  ]
 },
 {
  "resolve": {"axis": {"x": "independent", "y": "independent"}},
  "layer": [
   {"data": {"name": "cLines"}, "mark": {"type": "line", "strokeWidth": 1.5},
    "encoding": {
     "x": {"field": "x", "type": "quantitative", "scale": {"domain": [-0.52, 15.45], "range": [44, 175], "nice": false, "zero": false}, "axis": {"orient": "bottom", "offset": -31, "values": [0,3,6,9,12,15], "labelExpr": "datum.value%6==0?datum.label:''", "title": "t (ns)", "labelPadding": 5, "titlePadding": 1}},
     "y": {"field": "y", "type": "quantitative", "scale": {"domain": [-0.72, 9.08], "range": [329, 183], "nice": false, "zero": false}, "axis": {"orient": "left", "offset": -44, "values": [0,1.5,3,4.5,6,7.5], "labelExpr": "datum.value%3==0?datum.label:''", "title": "θₖ (μrad)", "titlePadding": 6}},
     "color": {"field": "s", "type": "nominal"}
    }},
   {"data": {"name": "cPts"}, "mark": {"type": "point", "shape": "circle", "filled": false, "size": 22, "strokeWidth": 1},
    "encoding": {
     "x": {"field": "x", "type": "quantitative", "axis": {"orient": "top", "offset": -183, "values": [0,3,6,9,12,15], "labels": false, "title": null}},
     "y": {"field": "y", "type": "quantitative", "axis": {"orient": "right", "offset": -175, "values": [0,1.5,3,4.5,6,7.5], "labels": false, "title": null}},
     "color": {"field": "s", "type": "nominal"}
    }},
   {"data": {"name": "cPtr"}, "mark": {"type": "rule", "strokeWidth": 1.2},
    "encoding": {"x": {"field": "x", "type": "quantitative", "axis": null}, "y": {"field": "y", "type": "quantitative", "axis": null}, "x2": {"field": "x2"}, "y2": {"field": "y2"}, "color": {"field": "s", "type": "nominal"}}},
   {"data": {"name": "cLab"}, "mark": {"type": "text", "align": "center", "baseline": "middle", "fontSize": 11},
    "encoding": {"x": {"field": "x", "type": "quantitative", "axis": null}, "y": {"field": "y", "type": "quantitative", "axis": null}, "text": {"field": "text"}, "color": {"field": "s", "type": "nominal"}}},
   {"data": {"values": [{"x": 15.1, "y": 7.74, "text": "tₚ = 6 ns"}, {"x": 15.1, "y": 6.85, "text": "V₀ = 2 V"}]}, "mark": {"type": "text", "fontSize": 12.5, "align": "right", "baseline": "middle", "color": "#000"},
    "encoding": {"x": {"field": "x", "type": "quantitative", "axis": null}, "y": {"field": "y", "type": "quantitative", "axis": null}, "text": {"field": "text"}}},
   {"data": {"values": [{"x": 0.45, "y": 8.48, "text": "c"}]}, "mark": {"type": "text", "fontWeight": "bold", "fontSize": 12, "baseline": "middle", "align": "center", "color": "#000"},
    "encoding": {"x": {"field": "x", "type": "quantitative", "axis": null}, "y": {"field": "y", "type": "quantitative", "axis": null}, "text": {"field": "text"}}}
  ]
 },
 {
  "resolve": {"axis": {"x": "independent", "y": "independent"}},
  "layer": [
   {"data": {"name": "dLines"}, "mark": {"type": "line", "strokeWidth": 1.5},
    "encoding": {
     "x": {"field": "x", "type": "quantitative", "scale": {"domain": [117.76, 126.93], "range": [210, 343], "nice": false, "zero": false}, "axis": {"orient": "bottom", "offset": -31, "values": [120,122.5,125], "labelExpr": "datum.value%5==0?datum.label:''", "title": "y (μm)", "labelPadding": 5, "titlePadding": 1}},
     "y": {"field": "y", "type": "quantitative", "scale": {"domain": [-0.38, 8.84], "range": [329, 183], "nice": false, "zero": false}, "axis": {"orient": "left", "offset": -210, "values": [0,1.5,3,4.5,6,7.5], "labelExpr": "datum.value%3==0?datum.label:''", "title": "θₖ (μrad)", "titlePadding": 6}},
     "color": {"field": "s", "type": "nominal"}
    }},
   {"data": {"name": "dPts"}, "mark": {"type": "point", "shape": "circle", "filled": false, "size": 22, "strokeWidth": 1},
    "encoding": {
     "x": {"field": "x", "type": "quantitative", "axis": {"orient": "top", "offset": -183, "values": [120,122.5,125], "labels": false, "title": null}},
     "y": {"field": "y", "type": "quantitative", "axis": {"orient": "right", "offset": -7, "values": [0,1.5,3,4.5,6,7.5], "labels": false, "title": null}},
     "color": {"field": "s", "type": "nominal"}
    }},
   {"data": {"name": "dPtr"}, "mark": {"type": "rule", "strokeWidth": 1.2},
    "encoding": {"x": {"field": "x", "type": "quantitative", "axis": null}, "y": {"field": "y", "type": "quantitative", "axis": null}, "x2": {"field": "x2"}, "y2": {"field": "y2"}, "color": {"field": "s", "type": "nominal"}}},
   {"data": {"name": "dLab"}, "mark": {"type": "text", "align": "center", "baseline": "middle", "fontSize": 11.5},
    "encoding": {"x": {"field": "x", "type": "quantitative", "axis": null}, "y": {"field": "y", "type": "quantitative", "axis": null}, "text": {"field": "text"}, "color": {"field": "s", "type": "nominal"}}},
   {"data": {"values": [{"x": 118.14, "y": 8.2, "text": "d"}]}, "mark": {"type": "text", "fontWeight": "bold", "fontSize": 12, "baseline": "middle", "align": "center", "color": "#000"},
    "encoding": {"x": {"field": "x", "type": "quantitative", "axis": null}, "y": {"field": "y", "type": "quantitative", "axis": null}, "text": {"field": "text"}}}
  ]
 },
 {
  "resolve": {"axis": {"x": "independent", "y": "independent"}},
  "layer": [
   {"data": {"name": "insetLine"}, "mark": {"type": "line", "strokeWidth": 1.3, "color": "#ff0000"},
    "encoding": {
     "x": {"field": "x", "type": "quantitative", "scale": {"domain": [5.04, 15.0], "range": [237, 313], "nice": false, "zero": false}, "axis": {"orient": "bottom", "offset": -112, "values": [6,9,12], "labelExpr": "datum.value%6==0?datum.label:''", "title": "t (ns)", "labelPadding": 3, "titlePadding": 1, "labelFontSize": 12, "titleFontSize": 13, "tickSize": -2}},
     "y": {"field": "y", "type": "quantitative", "scale": {"domain": [-0.16, 1.33], "range": [248, 186], "nice": false, "zero": false}, "axis": {"orient": "left", "offset": -237, "values": [0,0.5,1], "labelExpr": "datum.value%1==0?datum.label:''", "title": "J²y (a.u.)", "titlePadding": 1, "labelFontSize": 10.5, "titleFontSize": 9.5, "tickSize": -2, "labelPadding": 3, "titleY": 214}}
    }},
   {"data": {"name": "insetPts"}, "mark": {"type": "point", "shape": "circle", "filled": true, "size": 28, "color": "#000", "opacity": 1},
    "encoding": {
     "x": {"field": "x", "type": "quantitative", "axis": {"orient": "top", "offset": -186, "values": [6,9,12], "labels": false, "title": null, "tickSize": -2}},
     "y": {"field": "y", "type": "quantitative", "axis": {"orient": "right", "offset": -37, "values": [0,0.5,1], "labels": false, "title": null, "tickSize": -2}}
    }}
  ]
 }
],
"resolve": {"scale": {"x": "independent", "y": "independent"}, "axis": {"x": "independent", "y": "independent"}}
}
